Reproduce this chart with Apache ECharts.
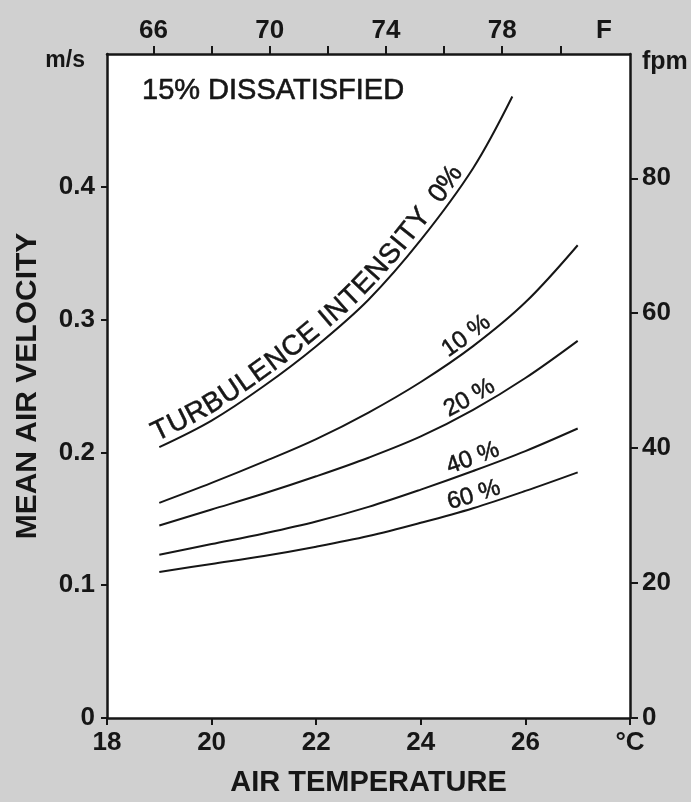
<!DOCTYPE html>
<html><head><meta charset="utf-8">
<script src="https://cdn.jsdelivr.net/npm/echarts@6/dist/echarts.min.js"></script>
<style>html,body{margin:0;padding:0;background:#d0d0d0}#c{width:691px;height:802px}</style>
</head><body><div id="c"></div>
<script>
// ---- data ----
const tempsC  = [19, 20, 21, 22, 23, 24, 25, 26, 27];          // °C
const temps0  = [19, 20, 21, 22, 23, 24, 25, 25.75];           // °C (0 % curve ends earlier)
const vel0    = [0.204, 0.224, 0.250, 0.280, 0.315, 0.360, 0.414, 0.468];
const vel10   = [0.162, 0.177, 0.193, 0.210, 0.230, 0.253, 0.280, 0.313, 0.356];
const vel20   = [0.145, 0.157, 0.169, 0.182, 0.196, 0.212, 0.232, 0.256, 0.284];
const vel40   = [0.123, 0.131, 0.139, 0.148, 0.159, 0.172, 0.186, 0.201, 0.218];
const vel60   = [0.110, 0.116, 0.122, 0.129, 0.137, 0.147, 0.158, 0.171, 0.185];
const curveNames = ['0%', '10 %', '20 %', '40 %', '60 %'];
const xTicksC   = [18, 20, 22, 24, 26];
const yTicksMs  = [0, 0.1, 0.2, 0.3, 0.4];
const yTicksFpm = [0, 20, 40, 60, 80];
const topTicksF = [66, 68, 70, 72, 74, 76, 78, 80];
const topLabelsF = [66, 70, 74, 78];
const mainTitle = '15% DISSATISFIED';
const bigLabel  = 'TURBULENCE INTENSITY';

// ---- axis ranges ----
const xMin = 18, xMax = 28, yMax = 0.5;
const MS_TO_FPM = 196.85;
const C2F = c => c * 1.8 + 32;

const FONT = '"Liberation Sans", Arial, Helvetica, sans-serif';
const INK = '#161616';
const lineAxis = {show: true, onZero: false, lineStyle: {color: INK, width: 2.5}};
const tickStyle = {color: INK, width: 2};
const lblStyle = {fontFamily: FONT, fontSize: 26, fontWeight: 'bold', color: INK};

const pair = (xs, ys) => xs.map((x, i) => [x, ys[i]]);
const seriesData = [pair(temps0, vel0), pair(tempsC, vel10), pair(tempsC, vel20), pair(tempsC, vel40), pair(tempsC, vel60)];

const chart = echarts.init(document.getElementById('c'), null, {renderer: 'canvas'});
const option = {
  backgroundColor: '#d0d0d0',
  animation: false,
  title: {text: mainTitle, left: 137, top: 71,
    textStyle: {fontFamily: FONT, fontSize: 29, fontWeight: 'normal', color: INK,
      textBorderColor: INK, textBorderWidth: 0.6}},
  grid: {left: 107, right: 61, top: 54, bottom: 84, show: true, backgroundColor: '#ffffff', borderWidth: 0,
    containLabel: false, outerBoundsMode: 'none'},
  xAxis: [
    {type: 'value', position: 'bottom', min: xMin, max: xMax, interval: 2,
      axisLine: lineAxis,
      axisTick: {show: true, inside: false, length: 7, customValues: xTicksC.concat([xMax]), lineStyle: tickStyle},
      axisLabel: Object.assign({margin: 12, customValues: xTicksC.concat([xMax]),
        formatter: v => v >= xMax ? '°C' : String(v)}, lblStyle),
      splitLine: {show: false},
      name: 'AIR TEMPERATURE', nameLocation: 'middle', nameGap: 50, nameMoveOverlap: false,
      nameTextStyle: {fontFamily: FONT, fontSize: 29, fontWeight: 'bold', color: INK}},
    {type: 'value', position: 'top', min: C2F(xMin), max: C2F(xMax),
      axisLine: lineAxis,
      axisTick: {show: true, inside: false, length: 8, customValues: topTicksF, lineStyle: tickStyle},
      axisLabel: Object.assign({margin: 10, customValues: topLabelsF.concat([81.5]),
        formatter: v => v > 80 ? 'F' : String(v)}, lblStyle),
      splitLine: {show: false}}
  ],
  yAxis: [
    {type: 'value', position: 'left', min: 0, max: yMax, interval: 0.1,
      axisLine: lineAxis,
      axisTick: {show: true, inside: false, length: 6, customValues: yTicksMs, lineStyle: tickStyle},
      axisLabel: Object.assign({margin: 12, customValues: yTicksMs.concat([yMax]),
        formatter: v => v > 0.45 ? '{u|m/s}' : (v === 0 ? '0' : v.toFixed(1)),
        rich: {u: {fontFamily: FONT, fontSize: 23, fontWeight: 'bold', color: INK, padding: [14, 10, 0, 0]}}}, lblStyle),
      splitLine: {show: false},
      name: 'MEAN AIR VELOCITY', nameLocation: 'middle', nameGap: 64, nameRotate: 90, nameMoveOverlap: false,
      nameTextStyle: {fontFamily: FONT, fontSize: 30, fontWeight: 'bold', color: INK}},
    {type: 'value', position: 'right', min: 0, max: yMax * MS_TO_FPM,
      axisLine: lineAxis,
      axisTick: {show: true, inside: false, length: 8, customValues: yTicksFpm, lineStyle: tickStyle},
      axisLabel: Object.assign({margin: 12, customValues: yTicksFpm.concat([yMax * MS_TO_FPM]),
        formatter: v => v > 90 ? '{u|fpm}' : String(v),
        rich: {u: {fontFamily: FONT, fontSize: 25, fontWeight: 'bold', color: INK, padding: [16, 0, 0, 0]}}}, lblStyle),
      splitLine: {show: false}}
  ],
  series: seriesData.map((d, i) => ({
    type: 'line', name: curveNames[i], xAxisIndex: 0, yAxisIndex: 0,
    data: d, smooth: 0.35, symbol: 'none',
    lineStyle: {color: INK, width: 2}
  }))
};
chart.setOption(option);

// ---- text along curves ----
const meas = document.createElement('canvas').getContext('2d');
function densePath(d) {
  const P = d.map(p => chart.convertToPixel({xAxisIndex: 0, yAxisIndex: 0}, p));
  const out = [];
  for (let i = 0; i < P.length - 1; i++) {
    const p0 = P[Math.max(0, i - 1)], p1 = P[i], p2 = P[i + 1], p3 = P[Math.min(P.length - 1, i + 2)];
    for (let k = 0; k < 24; k++) {
      const t = k / 24, t2 = t * t, t3 = t2 * t;
      const f = (a, b, c, e) => 0.5 * ((2 * b) + (-a + c) * t + (2 * a - 5 * b + 4 * c - e) * t2 + (-a + 3 * b - 3 * c + e) * t3);
      out.push([f(p0[0], p1[0], p2[0], p3[0]), f(p0[1], p1[1], p2[1], p3[1])]);
    }
  }
  out.push(P[P.length - 1]);
  return out;
}
function textOnCurve(d, text, startC, endC, size, weight, gap) {
  const pts = densePath(d);
  const cum = [0];
  for (let i = 1; i < pts.length; i++) cum.push(cum[i - 1] + Math.hypot(pts[i][0] - pts[i - 1][0], pts[i][1] - pts[i - 1][1]));
  const sAtX = px => { for (let i = 0; i < pts.length; i++) if (pts[i][0] >= px) return cum[i]; return cum[cum.length - 1]; };
  const at = s => {
    let i = 1; while (i < pts.length - 1 && cum[i] < s) i++;
    const a = pts[i - 1], b = pts[i], L = (cum[i] - cum[i - 1]) || 1, t = (s - cum[i - 1]) / L;
    const dx = (b[0] - a[0]) / L, dy = (b[1] - a[1]) / L;
    return {x: a[0] + (b[0] - a[0]) * t, y: a[1] + (b[1] - a[1]) * t, dx, dy};
  };
  const font = `${weight} ${size}px ${FONT}`;
  meas.font = font;
  const widths = Array.from(text).map(ch => meas.measureText(ch).width);
  const s0 = sAtX(chart.convertToPixel({xAxisIndex: 0}, startC));
  let spacing = 0;
  if (endC != null) {
    const s1 = sAtX(chart.convertToPixel({xAxisIndex: 0}, endC));
    const total = widths.reduce((a, b) => a + b, 0);
    spacing = (s1 - s0 - total) / (widths.length - 1);
  }
  const els = [];
  let s = s0;
  Array.from(text).forEach((ch, i) => {
    const c = at(s + widths[i] / 2);
    if (ch !== ' ') {
      els.push({type: 'text', x: c.x + gap * c.dy, y: c.y - gap * c.dx,
        rotation: Math.atan2(-c.dy, c.dx), z: 10,
        style: {text: ch, font, fill: INK, stroke: INK, lineWidth: 0.5, align: 'center', verticalAlign: 'bottom'}});
    }
    s += widths[i] + spacing;
  });
  return els;
}
let elements = [];
elements = elements.concat(textOnCurve(seriesData[0], bigLabel, 18.97, 24.28, 28, 'normal', 0));
elements = elements.concat(textOnCurve(seriesData[0], curveNames[0], 24.45, null, 27, 'normal', 0));
for (let i = 1; i < 5; i++) {
  elements = elements.concat(textOnCurve(seriesData[i], curveNames[i], 24.55, null, 24, 'normal', 0));
}
chart.setOption({graphic: {elements}});
</script>
</body></html>
